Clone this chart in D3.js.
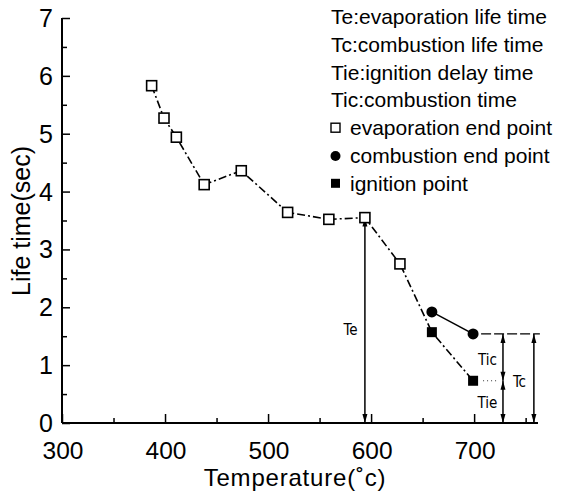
<!DOCTYPE html>
<html>
<head>
<meta charset="utf-8">
<script src="https://cdn.jsdelivr.net/npm/d3@7"></script>
<style>
  body { margin: 0; background: #fff; }
  svg text { font-family: "Liberation Sans", Arial, sans-serif; fill: #000; }
  .narrow { font-family: "Liberation Sans Narrow", "DejaVu Sans Condensed", sans-serif; }
</style>
</head>
<body>
<div id="chart"></div>
<script>
// evaporation end points (open squares)
var evapTemp = [387, 399, 411, 438, 474, 519, 559, 594, 628];
var evapTime = [5.83, 5.27, 4.94, 4.12, 4.36, 3.64, 3.52, 3.55, 2.75];
// combustion end points (filled circles)
var combTemp = [659, 699];
var combTime = [1.92, 1.54];
// ignition points (filled squares)
var ignTemp = [659, 699];
var ignTime = [1.57, 0.73];

var xTicks = [300, 400, 500, 600, 700];
var yTicks = [0, 1, 2, 3, 4, 5, 6, 7];
var legendLines = ['Te:evaporation life time', 'Tc:combustion life time',
                   'Tie:ignition delay time', 'Tic:combustion time'];
var legendMarks = ['evaporation end point', 'combustion end point', 'ignition point'];

var width = 572, height = 492;

var x = d3.scaleLinear().domain([300, 762]).range([62, 538]);
var y = d3.scaleLinear().domain([0, 7]).range([423, 18]);

var svg = d3.select('#chart').append('svg')
    .attr('width', width)
    .attr('height', height);

// axes, ticks pointing inward
var xAxis = d3.axisTop(x)
    .tickValues(d3.range(300, 762, 50))
    .tickSize(8)
    .tickFormat('');
var gx = svg.append('g').attr('transform', 'translate(0,' + y(0) + ')').call(xAxis);
gx.selectAll('.tick line').attr('y2', function(d) { return d % 100 === 0 ? -9 : -5; });

var yAxis = d3.axisRight(y)
    .tickValues(d3.range(0, 7.01, 0.5))
    .tickSize(8)
    .tickFormat('');
var gy = svg.append('g').attr('transform', 'translate(' + x(300) + ',0)').call(yAxis);
gy.selectAll('.tick line').attr('x2', function(d) { return d % 1 === 0 ? 8 : 5; });

svg.selectAll('.domain').attr('d', null);
svg.selectAll('.tick line').attr('stroke', '#000').attr('stroke-width', 1.5);
svg.append('line').attr('x1', x(300)).attr('x2', x(762)).attr('y1', y(0)).attr('y2', y(0))
    .attr('stroke', '#000').attr('stroke-width', 2);
svg.append('line').attr('x1', x(300)).attr('x2', x(300)).attr('y1', y(0)).attr('y2', y(7))
    .attr('stroke', '#000').attr('stroke-width', 2);

// tick labels
svg.selectAll('.xlab').data(xTicks).enter().append('text')
    .attr('x', function(d) { return x(d) + 1; })
    .attr('y', 459)
    .attr('text-anchor', 'middle')
    .attr('font-size', 24.5)
    .text(function(d) { return d; });

svg.selectAll('.ylab').data(yTicks).enter().append('text')
    .attr('x', 53)
    .attr('y', function(d) { return y(d) + 9; })
    .attr('text-anchor', 'end')
    .attr('font-size', 25)
    .text(function(d) { return d; });

// axis titles
svg.append('text')
    .attr('x', 295).attr('y', 486)
    .attr('text-anchor', 'middle')
    .attr('font-size', 24)
    .attr('letter-spacing', 0.8)
    .text('Temperature(˚c)');

svg.append('text')
    .attr('transform', 'translate(30,221) rotate(-90)')
    .attr('text-anchor', 'middle')
    .attr('font-size', 25)
    .text('Life time(sec)');

// dash-dot line: evaporation points then ignition points
var line = d3.line().x(function(d) { return x(d[0]); }).y(function(d) { return y(d[1]); });
var mainPts = d3.zip(evapTemp, evapTime).concat(d3.zip(ignTemp, ignTime));
svg.append('path')
    .attr('d', line(mainPts))
    .attr('fill', 'none')
    .attr('stroke', '#000')
    .attr('stroke-width', 1.6)
    .attr('stroke-dasharray', '8,3,2,3');

svg.append('path')
    .attr('d', line(d3.zip(combTemp, combTime)))
    .attr('fill', 'none')
    .attr('stroke', '#000')
    .attr('stroke-width', 1.6);

// annotation guides
var teTemp = evapTemp[7], ticTemp = 728, tcTemp = 758;
svg.append('line')
    .attr('x1', x(combTemp[1]) + 8).attr('x2', x(tcTemp) + 6)
    .attr('y1', y(combTime[1])).attr('y2', y(combTime[1]))
    .attr('stroke', '#000').attr('stroke-width', 1.3)
    .attr('stroke-dasharray', '10,3');
svg.append('line')
    .attr('x1', x(ignTemp[1]) + 10).attr('x2', x(ticTemp) - 6)
    .attr('y1', y(ignTime[1])).attr('y2', y(ignTime[1]))
    .attr('stroke', '#000').attr('stroke-width', 0.8)
    .attr('stroke-dasharray', '1,3');

function arrow(t, v1, v2) {
  var xp = x(t), y1 = y(v1), y2 = y(v2);
  svg.append('line').attr('x1', xp).attr('x2', xp).attr('y1', y1).attr('y2', y2)
      .attr('stroke', '#000').attr('stroke-width', 1.5);
  var dir = y2 > y1 ? 1 : -1;
  [[y1, -dir], [y2, dir]].forEach(function(a) {
    var tip = a[0], s = a[1];
    svg.append('path')
        .attr('d', 'M' + xp + ',' + tip + 'L' + (xp - 2.5) + ',' + (tip - s * 9) +
                   'L' + (xp + 2.5) + ',' + (tip - s * 9) + 'Z')
        .attr('fill', '#000');
  });
}
arrow(teTemp, evapTime[7], 0);
arrow(ticTemp, combTime[1], ignTime[1]);
arrow(ticTemp, ignTime[1], 0);
arrow(tcTemp, combTime[1], 0);

function note(t, v, txt) {
  svg.append('text').attr('class', 'narrow')
      .attr('x', x(t)).attr('y', y(v) + 5)
      .attr('text-anchor', 'middle')
      .attr('font-size', 15)
      .text(txt);
}
note(580, 1.61, 'Te');
note(713, 1.09, 'Tic');
note(713, 0.35, 'Tie');
note(744, 0.71, 'Tc');

// markers
svg.selectAll('.evap').data(d3.zip(evapTemp, evapTime)).enter().append('rect')
    .attr('x', function(d) { return x(d[0]) - 5; })
    .attr('y', function(d) { return y(d[1]) - 5; })
    .attr('width', 10).attr('height', 10)
    .attr('fill', '#fff').attr('stroke', '#000').attr('stroke-width', 1.6);

svg.selectAll('.comb').data(d3.zip(combTemp, combTime)).enter().append('circle')
    .attr('cx', function(d) { return x(d[0]); })
    .attr('cy', function(d) { return y(d[1]); })
    .attr('r', 5.5).attr('fill', '#000');

svg.selectAll('.ign').data(d3.zip(ignTemp, ignTime)).enter().append('rect')
    .attr('x', function(d) { return x(d[0]) - 5; })
    .attr('y', function(d) { return y(d[1]) - 5; })
    .attr('width', 10).attr('height', 10)
    .attr('fill', '#000');

// legend
svg.selectAll('.leg').data(legendLines).enter().append('text')
    .attr('x', 331)
    .attr('y', function(d, i) { return 24 + i * 27.8; })
    .attr('font-size', 21)
    .text(function(d) { return d; });

var legY = function(i) { return 24 + (i + 4) * 27.8; };
svg.selectAll('.legm').data(legendMarks).enter().append('text')
    .attr('x', 350)
    .attr('y', function(d, i) { return legY(i); })
    .attr('font-size', 21)
    .text(function(d) { return d; });

svg.append('rect').attr('x', 331).attr('y', legY(0) - 12).attr('width', 9).attr('height', 9)
    .attr('fill', '#fff').attr('stroke', '#000').attr('stroke-width', 1.4);
svg.append('circle').attr('cx', 335.5).attr('cy', legY(1) - 7).attr('r', 5).attr('fill', '#000');
svg.append('rect').attr('x', 331).attr('y', legY(2) - 12).attr('width', 9).attr('height', 9)
    .attr('fill', '#000');
</script>
</body>
</html>
